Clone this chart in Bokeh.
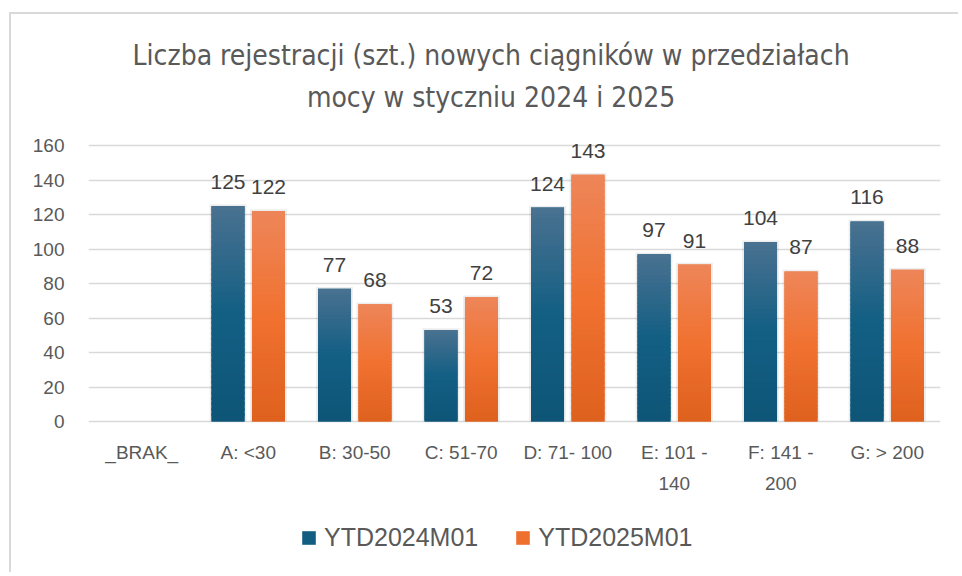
from bokeh.plotting import figure
from bokeh.models import ColumnDataSource, LabelSet, Label, Legend, LegendItem, FixedTicker
from bokeh.transform import dodge
from bokeh.core.properties import value
from bokeh.embed import file_html
from bokeh.resources import INLINE

# ---- data ----
categories = ["_BRAK_", "A: <30", "B: 30-50", "C: 51-70", "D: 71- 100",
              "E: 101 - 140", "F: 141 - 200", "G: > 200"]
label_line1 = ["_BRAK_", "A: <30", "B: 30-50", "C: 51-70", "D: 71- 100",
               "E: 101 -", "F: 141 -", "G: > 200"]
label_line2 = ["", "", "", "", "", "140", "200", ""]
series_names = ["YTD2024M01", "YTD2025M01"]
values_2024 = [None, 125, 77, 53, 124, 97, 104, 116]
values_2025 = [None, 122, 68, 72, 143, 91, 87, 88]
y_ticks = [0, 20, 40, 60, 80, 100, 120, 140, 160]
title_lines = ["Liczba rejestracji (szt.) nowych ciągników w przedziałach",
               "mocy w styczniu 2024 i 2025"]

# gradient stops (bottom, middle, top)
blue_stops = [(14, 85, 119), (19, 95, 132), (74, 113, 144)]
orange_stops = [(223, 97, 30), (240, 113, 48), (238, 134, 89)]

TEXT_FONT = "Liberation Sans"
TITLE_FONT = "DejaVu Sans Condensed"

# layout: pixels per data unit and room above/below the value axis
PX = 1.725
Y_MAX = 160
Y_TOP = Y_MAX + 131 / PX      # space above the 160 line, for the title
Y_BOTTOM = -153 / PX          # space below 0, for category labels and legend


def grad(stops, t):
    if t <= 0.5:
        a, b, u = stops[0], stops[1], t / 0.5
    else:
        a, b, u = stops[1], stops[2], (t - 0.5) / 0.5
    c = [round(a[i] + (b[i] - a[i]) * u) for i in range(3)]
    return "#%02x%02x%02x" % tuple(c)


p = figure(
    x_range=categories, y_range=(Y_BOTTOM, Y_TOP),
    width=949, height=560,
    output_backend="svg", toolbar_location=None,
    min_border_left=77, min_border_right=20, min_border_top=0, min_border_bottom=0,
)
p.styles = {"border-top": "2px solid #d9d9d9", "border-left": "2px solid #d9d9d9",
            "margin-left": "9px", "margin-top": "12px"}
p.title.visible = False
p.outline_line_color = None
p.background_fill_color = "white"
p.border_fill_color = "white"

p.xaxis.visible = False
p.xgrid.grid_line_color = None
p.ygrid.grid_line_color = "#d9d9d9"
p.ygrid.grid_line_width = 1.6
p.yaxis.ticker = FixedTicker(ticks=y_ticks)

ax = p.yaxis[0]
ax.axis_line_color = None
ax.major_tick_line_color = None
ax.minor_tick_line_color = None
ax.major_tick_out = 0
ax.major_tick_in = 0
ax.major_label_text_color = "#595959"
ax.major_label_text_font = TEXT_FONT
ax.major_label_text_font_size = "19px"
ax.major_label_standoff = 24

N = 40
offsets = [-0.19, 0.19]
bar_w = 0.31
legend_items = []
for name, vals, stops, off in zip(series_names, [values_2024, values_2025],
                                  [blue_stops, orange_stops], offsets):
    cats = [c for c, v in zip(categories, vals) if v is not None]
    vv = [v for v in vals if v is not None]
    base = ColumnDataSource(dict(cat=cats, val=vv, shadow=[v + 1.0 for v in vv],
                                 label=[str(v) for v in vv]))
    xd = dodge("cat", off, range=p.x_range)
    p.vbar(x=xd, width=bar_w + 0.035, top="shadow", bottom=0, source=base,
           fill_color="black", fill_alpha=0.07, line_color=None)
    base_r = p.vbar(x=xd, width=bar_w, top="val", bottom=0, source=base,
                    fill_color=grad(stops, 0.45), line_color=None)
    seg = dict(cat=[], bottom=[], top=[], color=[])
    for c, v in zip(cats, vv):
        for k in range(N):
            seg["cat"].append(c)
            seg["bottom"].append(v * k / N)
            seg["top"].append(min(v, v * (k + 1.6) / N))
            seg["color"].append(grad(stops, (k + 0.5) / N))
    p.vbar(x=dodge("cat", off, range=p.x_range), width=bar_w, top="top", bottom="bottom",
           source=ColumnDataSource(seg), fill_color="color", line_color=None)
    p.add_layout(LabelSet(x=xd, y="val", text="label", source=base, y_offset=17,
                          text_align="center", text_baseline="alphabetic",
                          text_font=value(TEXT_FONT), text_font_size="21px",
                          text_color="#404040"))
    legend_items.append(LegendItem(label=name, renderers=[base_r]))

# category labels (two lines)
for lines, dy in ((label_line1, -31), (label_line2, -62)):
    src = ColumnDataSource(dict(cat=[c for c, s in zip(categories, lines) if s],
                                txt=[s for s in lines if s],
                                y=[0 for s in lines if s]))
    p.add_layout(LabelSet(x="cat", y="y", text="txt", source=src, y_offset=dy,
                          text_align="center", text_baseline="middle",
                          text_font=value(TEXT_FONT), text_font_size="19px",
                          text_color="#595959"))

# title
for i, line in enumerate(title_lines):
    p.add_layout(Label(x=3.78, y=Y_MAX, y_offset=(145 - 55) - i * 42, text=line,
                       text_align="center", text_baseline="middle", text_font=TITLE_FONT,
                       text_font_size="28px", text_color="#595959"))

legend = Legend(items=legend_items, orientation="horizontal", location=(212, 22),
                glyph_width=17, glyph_height=17, label_standoff=7, spacing=36,
                padding=0, margin=0, border_line_color=None, background_fill_alpha=0,
                label_text_font=TEXT_FONT, label_text_font_size="25px",
                label_text_color="#595959")
p.add_layout(legend)

open("out.html", "w").write(file_html(p, INLINE))
